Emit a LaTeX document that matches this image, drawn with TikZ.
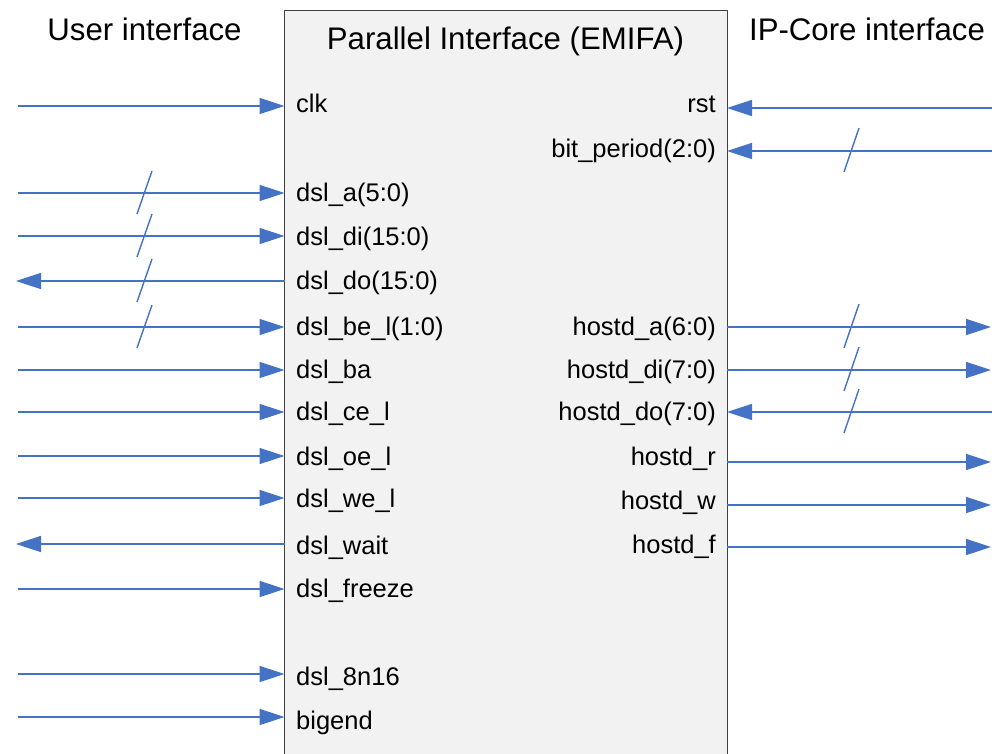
\documentclass[tikz,border=0pt]{standalone}
\usepackage{fontspec}
\setmainfont{Liberation Sans}
\usetikzlibrary{arrows.meta}
\definecolor{sigblue}{HTML}{4472C4}
\definecolor{boxfill}{HTML}{F2F2F2}
\definecolor{boxline}{HTML}{404040}
\begin{document}
\begin{tikzpicture}[x=1pt,y=-1pt,
  sig/.style={draw=sigblue, line width=1.6pt},
  sigin/.style={sig, -{Triangle[length=25pt,width=16pt]}},
  sigout/.style={sig, {Triangle[length=25pt,width=16pt]}-},
  busmark/.style={draw=sigblue, line width=1.4pt},
  lbl/.style={inner sep=0pt, font=\fontsize{25.5}{30}\selectfont},
  lft/.style={lbl, anchor=base west},
  rgt/.style={lbl, anchor=base east},
  head/.style={inner sep=0pt, anchor=base, font=\fontsize{31.2}{36}\selectfont},
  corebox/.style={draw=boxline, fill=boxfill, line width=1pt, inner sep=0pt, outer sep=0pt,
    minimum width=442.5pt, minimum height=760pt, anchor=north west}
]
\useasboundingbox (0,0) rectangle (992,754);
\node[corebox] (core) at (284.5,10.5) {};

% headings
\node[head] (tuser) at (144.5,41) {User interface};
\node[head] (tip) at (867,41) {IP-Core interface};
\node[head] (ttitle) at (505.5,50) {Parallel Interface (EMIFA)};

% left labels
\node[lft] (clk) at (296,113) {clk};
\node[lft] (dsla) at (296,201) {dsl\_a(5:0)};
\node[lft] (dsldi) at (296,245) {dsl\_di(15:0)};
\node[lft] (dsldo) at (296,289) {dsl\_do(15:0)};
\node[lft] (dslbel) at (296,335) {dsl\_be\_l(1:0)};
\node[lft] (dslba) at (296,378) {dsl\_ba};
\node[lft] (dslcel) at (296,420) {dsl\_ce\_l};
\node[lft] (dsloel) at (296,465) {dsl\_oe\_l};
\node[lft] (dslwel) at (296,507) {dsl\_we\_l};
\node[lft] (dslwait) at (296,554) {dsl\_wait};
\node[lft] (dslfreeze) at (296,597) {dsl\_freeze};
\node[lft] (dsl8n16) at (296,685) {dsl\_8n16};
\node[lft] (bigend) at (296,729) {bigend};

% right labels
\node[rgt] (rst) at (716,113) {rst};
\node[rgt] (bitp) at (716,158) {bit\_period(2:0)};
\node[rgt] (hosta) at (716,335) {hostd\_a(6:0)};
\node[rgt] (hostdi) at (716,378) {hostd\_di(7:0)};
\node[rgt] (hostdo) at (716,420) {hostd\_do(7:0)};
\node[rgt] (hostr) at (716,465) {hostd\_r};
\node[rgt] (hostw) at (716,509) {hostd\_w};
\node[rgt] (hostf) at (716,553) {hostd\_f};

% free ends, left side
\coordinate (eclk) at (18,106);
\coordinate (edsla) at (18,193);
\coordinate (edsldi) at (18,236);
\coordinate (edsldo) at (16,281);
\coordinate (edslbel) at (18,327);
\coordinate (edslba) at (18,370);
\coordinate (edslcel) at (18,412);
\coordinate (edsloel) at (18,456);
\coordinate (edslwel) at (18,498);
\coordinate (edslwait) at (16,544);
\coordinate (edslfreeze) at (18,589);
\coordinate (edsl8n16) at (18,674);
\coordinate (ebigend) at (18,717);

% free ends, right side
\coordinate (erst) at (992,108);
\coordinate (ebitp) at (992,151);
\coordinate (ehosta) at (991,327);
\coordinate (ehostdi) at (991,370);
\coordinate (ehostdo) at (992,412);
\coordinate (ehostr) at (991,462);
\coordinate (ehostw) at (991,505);
\coordinate (ehostf) at (991,547);

% left connectors
\draw[sigin] (eclk) -- (eclk -| core.west);
\draw[sigin] (edsla) -- (edsla -| core.west);
\draw[sigin] (edsldi) -- (edsldi -| core.west);
\draw[sigout] (edsldo) -- (edsldo -| core.west);
\draw[sigin] (edslbel) -- (edslbel -| core.west);
\draw[sigin] (edslba) -- (edslba -| core.west);
\draw[sigin] (edslcel) -- (edslcel -| core.west);
\draw[sigin] (edsloel) -- (edsloel -| core.west);
\draw[sigin] (edslwel) -- (edslwel -| core.west);
\draw[sigout] (edslwait) -- (edslwait -| core.west);
\draw[sigin] (edslfreeze) -- (edslfreeze -| core.west);
\draw[sigin] (edsl8n16) -- (edsl8n16 -| core.west);
\draw[sigin] (ebigend) -- (ebigend -| core.west);

% right connectors
\draw[sigin] (erst) -- (erst -| core.east);
\draw[sigin] (ebitp) -- (ebitp -| core.east);
\draw[sigin] (ehosta -| core.east) -- (ehosta);
\draw[sigin] (ehostdi -| core.east) -- (ehostdi);
\draw[sigin] (ehostdo) -- (ehostdo -| core.east);
\draw[sigin] (ehostr -| core.east) -- (ehostr);
\draw[sigin] (ehostw -| core.east) -- (ehostw);
\draw[sigin] (ehostf -| core.east) -- (ehostf);

% bus marks
\foreach \c in {edsla,edsldi,edsldo,edslbel}{
  \draw[busmark] ([shift={(137,21)}]\c -| 0,0) -- ([shift={(152,-22)}]\c -| 0,0);
}
\foreach \c in {ebitp,ehosta,ehostdi,ehostdo}{
  \draw[busmark] ([shift={(844,21)}]\c -| 0,0) -- ([shift={(859,-23)}]\c -| 0,0);
}
\end{tikzpicture}
\end{document}
